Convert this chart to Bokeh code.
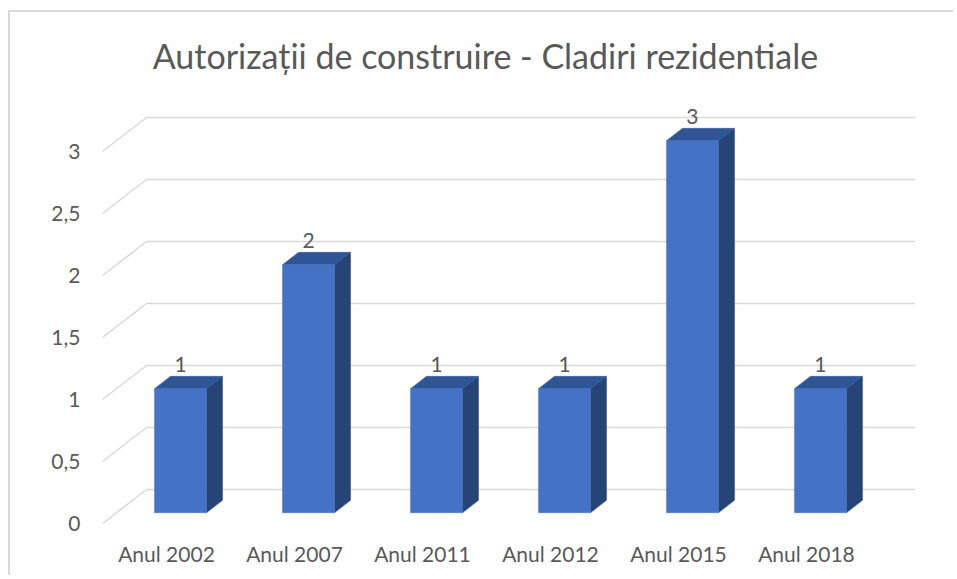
from bokeh.plotting import figure
from bokeh.models import Range1d, FixedTicker
from bokeh.core.properties import value
from bokeh.embed import file_html
from bokeh.resources import INLINE

# ---- data ----
categories = ["Anul 2002", "Anul 2007", "Anul 2011", "Anul 2012", "Anul 2015", "Anul 2018"]
counts = [1, 2, 1, 1, 3, 1]
y_ticks = [0, 0.5, 1, 1.5, 2, 2.5, 3]
y_tick_labels = ["0", "0,5", "1", "1,5", "2", "2,5", "3"]
title_text = "Autorizații de construire - Cladiri rezidentiale"

# ---- style ----
FONT = "Lato"
TEXT = "#595959"
GRID = "#D9D9D9"
FRONT = "#4472C4"
TOP = "#2F5597"
SIDE = "#264478"

X0, X1 = -0.5, 5.852
Y0, Y1 = 0.0, 4.121
DX, DY = 0.344, 0.274      # depth of the floor (3D offset)
F0, F1 = 0.318, 0.682      # bar front/back position inside the depth
BW = 0.406                 # bar width

p = figure(width=945, height=565,
           x_range=Range1d(X0, X1), y_range=Range1d(Y0, Y1),
           output_backend="svg", toolbar_location=None,
           min_border_left=92, min_border_right=40,
           min_border_top=0, min_border_bottom=54)
p.styles = {"border-left": "2px solid #D9D9D9", "border-top": "2px solid #D9D9D9",
            "margin-top": "10px", "margin-left": "8px"}
p.outline_line_color = None
p.background_fill_color = "white"
p.border_fill_color = "white"
p.xgrid.grid_line_color = None
p.ygrid.grid_line_color = None

# axes
p.xaxis.ticker = FixedTicker(ticks=list(range(len(categories))))
p.xaxis.major_label_overrides = {i: c for i, c in enumerate(categories)}
p.yaxis.ticker = FixedTicker(ticks=y_ticks)
p.yaxis.major_label_overrides = {t: l for t, l in zip(y_ticks, y_tick_labels)}
for ax in (p.xaxis, p.yaxis):
    ax.axis_line_color = None
    ax.major_tick_line_color = None
    ax.minor_tick_line_color = None
    ax.major_tick_out = 0
    ax.major_tick_in = 0
    ax.major_label_text_font = FONT
    ax.major_label_text_font_size = "21px"
    ax.major_label_text_color = TEXT
p.yaxis.major_label_standoff = 22
p.xaxis.major_label_standoff = 17

# 3D gridlines: front-left diagonal then back wall line
p.multi_line(xs=[[X0, X0 + DX, X1] for t in y_ticks],
             ys=[[t, t + DY, t + DY] for t in y_ticks],
             line_color=GRID, line_width=1.5)

# bars
bdx = (F1 - F0) * DX
bdy = (F1 - F0) * DY
lefts, rights, bottoms, tops = [], [], [], []
top_xs, top_ys, side_xs, side_ys = [], [], [], []
for i, v in enumerate(counts):
    cx = i + F0 * DX
    L, R = cx - BW / 2, cx + BW / 2
    b, t = F0 * DY, v + F0 * DY
    lefts.append(L); rights.append(R); bottoms.append(b); tops.append(t)
    top_xs.append([L, R, R + bdx, L + bdx]); top_ys.append([t, t, t + bdy, t + bdy])
    side_xs.append([R, R + bdx, R + bdx, R]); side_ys.append([b, b + bdy, t + bdy, t])

p.patches(xs=side_xs, ys=side_ys, fill_color=SIDE, line_color=SIDE, line_width=0.5)
p.patches(xs=top_xs, ys=top_ys, fill_color=TOP, line_color=TOP, line_width=0.5)
p.quad(left=lefts, right=rights, bottom=bottoms, top=tops,
       fill_color=FRONT, line_color=FRONT, line_width=0.5)

# data labels
p.text(x=[i + F0 * DX for i in range(len(counts))],
       y=[v + F1 * DY for v in counts],
       text=[str(v) for v in counts],
       text_align="center", text_baseline="middle", y_offset=-12,
       text_font=value(FONT), text_font_size="21px", text_color=TEXT)

# title
p.text(x=[2.492], y=[3.774], text=[title_text], text_align="center",
       text_baseline="alphabetic", text_font=value(FONT),
       text_font_size="34px", text_color=TEXT)

open("out.html", "w").write(file_html(p, INLINE))
